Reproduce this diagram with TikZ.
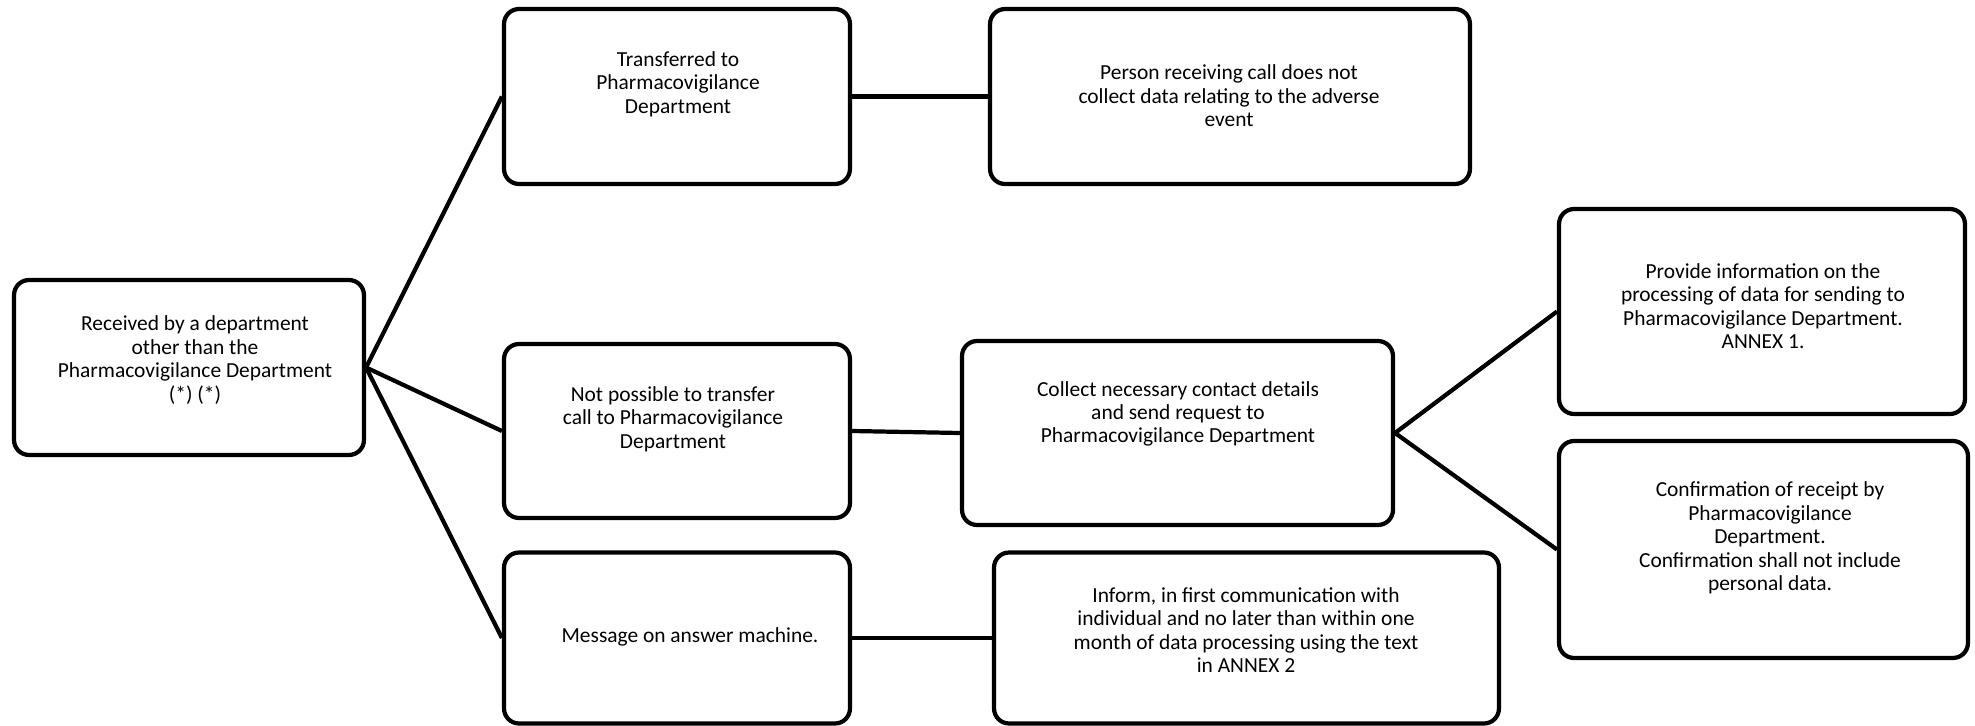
\documentclass[tikz,border=0pt]{standalone}
\usepackage{fontspec}
\setmainfont{Carlito}
\usepackage{tikz}
\tikzset{
    box/.style={line width=2.4pt, draw=black, rounded corners=0.3cm, fill=white},
    txt/.style={align=center, font=\fontsize{12.2}{13.3}\selectfont},
    link/.style={line width=2.4pt},
}

\begin{document}
\begin{tikzpicture}[x=0.02cm, y=-0.02cm]
    \newcommand\colA{189}
    \newcommand\colB{677}
    \useasboundingbox (0, 0) rectangle (1975, 726);

    \node[box, minimum height=3.5cm, minimum width=7.0cm] (recv) at (\colA, 367.5){};
    \node[box, minimum height=3.5cm, minimum width=6.92cm] (trans) at (\colB, 96.5){};
    \node[box, minimum height=3.5cm, minimum width=9.6cm] (person) at (1230, 96.5){};
    \node[box, minimum height=3.48cm, minimum width=6.92cm] (notposs) at (\colB, 431){};
    \node[box, minimum height=3.68cm, minimum width=8.62cm] (collect) at (1177.5, 433){};
    \node[box, minimum height=4.1cm, minimum width=8.12cm] (provide) at (1762, 311.5){};
    \node[box, minimum height=4.34cm, minimum width=8.18cm] (confirm) at (1763.5, 549.5){};
    \node[box, minimum height=3.42cm, minimum width=6.92cm] (message) at (\colB, 638){};
    \node[box, minimum height=3.42cm, minimum width=10.1cm] (inform) at (1246.5, 638){};

    \node[txt] (labrecv) at (195, 360){Received by a department\\other than the\\Pharmacovigilance Department\\(*) (*)};
    \node[txt] (labtrans) at (678, 84){Transferred to\\Pharmacovigilance\\Department};
    \node[txt] (labperson) at (1229, 96){Person receiving call does not\\collect data relating to the adverse\\event};
    \node[txt] (labnotposs) at (673, 419){Not possible to transfer\\call to Pharmacovigilance\\Department};
    \node[txt] (labcollect) at (1178, 414){Collect necessary contact details\\and send request to\\Pharmacovigilance Department};
    \node[txt] (labprovide) at (1763, 306){Provide information on the\\processing of data for sending to\\Pharmacovigilance Department.\\ANNEX 1.};
    \node[txt] (labconfirm) at (1770, 538){Confirmation of receipt by\\Pharmacovigilance\\Department.\\Confirmation shall not include\\personal data.};
    \node[txt] (labmessage) at (690, 637){Message on answer machine.};
    \node[txt] (labinform) at (1246, 630){Inform, in first communication with\\individual and no later than within one\\month of data processing using the text\\in ANNEX 2};

    \draw[link] (recv.east) -- (trans.west);
    \draw[link] (recv.east) -- (notposs.west);
    \draw[link] (recv.east) -- (message.west);
    \draw[link] (trans.east) -- (person.west);
    \draw[link] (notposs.east) -- (collect.west);
    \draw[link] (message.east) -- (inform.west);
    \draw[link] (collect.east) -- (provide.west);
    \draw[link] (collect.east) -- (confirm.west);
\end{tikzpicture}
\end{document}
